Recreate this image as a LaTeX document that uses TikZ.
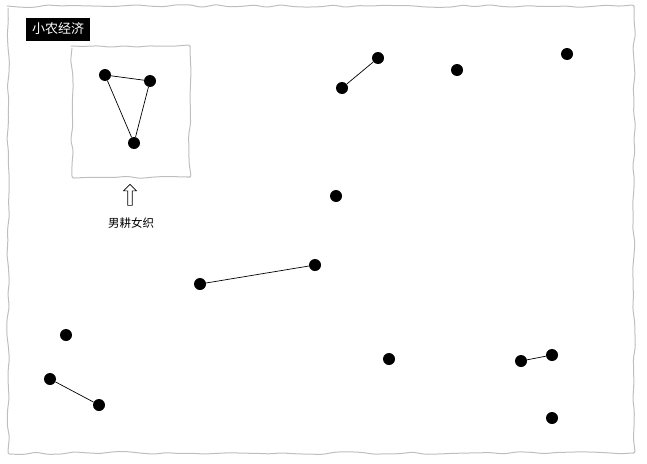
\documentclass[tikz,border=0pt]{standalone}
\usepackage{fontspec}
\setmainfont{Noto Sans CJK SC}
\usepackage{tikz}
\usetikzlibrary{arrows.meta,positioning,shapes.arrows,decorations.pathmorphing}
\definecolor{sketchgray}{RGB}{190,190,190}
\pgfmathsetseed{7}

\begin{document}
\begin{tikzpicture}[x=1pt,y=-1pt,
  sketch/.style={draw=sketchgray,line width=1pt,
    decorate,decoration={random steps,segment length=13pt,amplitude=1.4pt},rounded corners=2pt},
  dot/.style={circle,fill=black,inner sep=0pt,minimum size=12pt},
  tie/.style={black,line width=0.7pt},
  tag/.style={fill=black,text=white,font=\fontsize{13}{15}\selectfont,inner xsep=6pt,inner ysep=3pt,minimum height=23pt},
  caption/.style={font=\fontsize{11.5}{13}\selectfont}]
  \useasboundingbox (0,0) rectangle (647,463);
  % Frame and title
  \draw[sketch] (8,6) rectangle (634,453);
  \node[tag] (title) at (58,29) {小农经济};
  % Inset: family unit
  \draw[sketch] (72,46) rectangle (190,177);
  \node[dot] (man) at (105,75) {};
  \node[dot] (woman) at (150,81) {};
  \node[dot] (child) at (134,143) {};
  \draw[tie] (man) -- (woman) -- (child) -- (man);
  \node[single arrow,draw,rotate=90,line width=0.6pt,minimum height=21pt,minimum width=13pt,
    single arrow head extend=2.5pt,inner sep=1pt] (up) at (130,196) {};
  \node[caption] (farm) at (131,223) {男耕女织};
  % Scattered households
  \node[dot] (a1) at (342,88) {};
  \node[dot] (a2) at (378,58) {};
  \draw[tie] (a1) -- (a2);
  \node[dot] (b) at (457,70) {};
  \node[dot] (c) at (567,54) {};
  \node[dot] (d) at (336,196) {};
  \node[dot] (e1) at (200,284) {};
  \node[dot] (e2) at (315,265) {};
  \draw[tie] (e1) -- (e2);
  \node[dot] (f) at (66,335) {};
  \node[dot] (g1) at (50,379) {};
  \node[dot] (g2) at (99,405) {};
  \draw[tie] (g1) -- (g2);
  \node[dot] (h) at (389,359) {};
  \node[dot] (k1) at (521,361) {};
  \node[dot] (k2) at (552,355) {};
  \draw[tie] (k1) -- (k2);
  \node[dot] (m) at (552,418) {};
\end{tikzpicture}
\end{document}
